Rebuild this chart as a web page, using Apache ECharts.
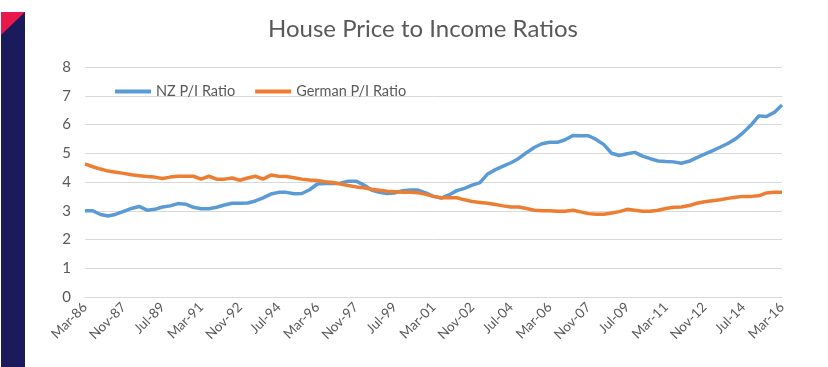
<!DOCTYPE html>
<html>
<head>
<meta charset="utf-8">
<script src="https://cdn.jsdelivr.net/npm/echarts@6/dist/echarts.min.js"></script>
<style>html,body{margin:0;padding:0;background:#fff}#c{width:828px;height:367px}</style>
</head>
<body>
<div id="c"></div>
<script>
// Categories: every 4 months, Mar-86 .. Mar-16
const months = ['Mar', 'Jul', 'Nov'];
const categories = [];
for (let y = 1986; y <= 2016; y++) {
  for (const m of months) {
    if (y === 2016 && m !== 'Mar') break;
    categories.push(m + '-' + String(y % 100).padStart(2, '0'));
  }
}
const nzRatio = [
  3.0, 3.0, 2.87, 2.82, 2.88, 2.98, 3.08, 3.15, 3.02, 3.05,
  3.13, 3.17, 3.25, 3.23, 3.12, 3.07, 3.07, 3.12, 3.2, 3.26,
  3.26, 3.27, 3.34, 3.45, 3.58, 3.64, 3.64, 3.59, 3.6, 3.73,
  3.93, 3.95, 3.95, 3.96, 4.03, 4.03, 3.9, 3.72, 3.64, 3.6,
  3.62, 3.7, 3.72, 3.72, 3.62, 3.5, 3.44, 3.55, 3.7, 3.78,
  3.89, 3.98, 4.28, 4.43, 4.55, 4.67, 4.82, 5.02, 5.2, 5.33,
  5.38, 5.38, 5.47, 5.62, 5.61, 5.61, 5.48, 5.3, 5.0, 4.92,
  4.98, 5.03, 4.9, 4.81, 4.73, 4.71, 4.7, 4.65, 4.72, 4.85,
  4.97, 5.08, 5.21, 5.34, 5.5, 5.72, 5.98, 6.3, 6.28, 6.42,
  6.68
];
const germanRatio = [
  4.63, 4.53, 4.45, 4.38, 4.34, 4.3, 4.25, 4.22, 4.19, 4.17,
  4.12, 4.17, 4.2, 4.2, 4.2, 4.1, 4.2, 4.1, 4.1, 4.14,
  4.06, 4.14, 4.2, 4.1, 4.24, 4.2, 4.19, 4.15, 4.1, 4.07,
  4.05, 4.01, 3.98, 3.93, 3.88, 3.83, 3.8, 3.75, 3.71, 3.68,
  3.66, 3.64, 3.64, 3.63, 3.57, 3.5, 3.45, 3.45, 3.45, 3.38,
  3.32, 3.29, 3.26, 3.22, 3.17, 3.13, 3.13, 3.08, 3.02, 3.0,
  3.0, 2.98, 2.98, 3.02, 2.96, 2.9, 2.88, 2.88, 2.92, 2.97,
  3.05, 3.02, 2.98, 2.98, 3.02, 3.08, 3.12, 3.13, 3.18, 3.26,
  3.31, 3.35, 3.38, 3.43, 3.47, 3.5, 3.5, 3.52, 3.62, 3.64,
  3.64
];
const yTicks = [0, 1, 2, 3, 4, 5, 6, 7, 8];

const FONT = 'Lato, "Open Sans", sans-serif';
const TXT = '#595959';
const chart = echarts.init(document.getElementById('c'), null, { renderer: 'canvas' });
chart.setOption({
  animation: false,
  textStyle: { fontFamily: FONT },
  title: {
    text: 'House Price to Income Ratios',
    left: 418, top: 12, textAlign: 'center',
    textStyle: { fontFamily: FONT, fontSize: 24, fontWeight: 'normal', color: TXT }
  },
  legend: {
    left: 115, top: 84, padding: 0,
    icon: 'rect', itemWidth: 36, itemHeight: 4, itemGap: 20,
    textStyle: { fontFamily: FONT, fontSize: 14.5, color: TXT },
    data: ['NZ P/I Ratio', 'German P/I Ratio']
  },
  grid: { left: 85, right: 46, top: 67, bottom: 70, containLabel: false },
  graphic: [
    { type: 'rect', shape: { x: 1, y: 12, width: 24, height: 360 }, style: { fill: '#1a1a5c' } },
    { type: 'polygon', shape: { points: [[1, 12], [25, 12], [1, 35]] }, style: { fill: '#e8194a' } }
  ],
  xAxis: {
    type: 'category', data: categories, boundaryGap: false,
    axisLine: { lineStyle: { color: '#d9d9d9', width: 1 } },
    axisTick: { show: false },
    axisLabel: {
      interval: 4, rotate: 45, margin: 8,
      fontFamily: FONT, fontSize: 13.5, color: TXT
    },
    splitLine: { show: false }
  },
  yAxis: {
    type: 'value', min: yTicks[0], max: yTicks[yTicks.length - 1], interval: 1,
    axisLine: { show: false }, axisTick: { show: false },
    axisLabel: { fontFamily: FONT, fontSize: 15, color: TXT, margin: 14 },
    splitLine: { lineStyle: { color: '#d9d9d9', width: 1 } }
  },
  series: [
    {
      name: 'NZ P/I Ratio', type: 'line', data: nzRatio,
      showSymbol: false, symbol: 'none',
      lineStyle: { color: '#5b9bd5', width: 3.5 }, itemStyle: { color: '#5b9bd5' }
    },
    {
      name: 'German P/I Ratio', type: 'line', data: germanRatio,
      showSymbol: false, symbol: 'none',
      lineStyle: { color: '#ed7d31', width: 3.5 }, itemStyle: { color: '#ed7d31' }
    }
  ]
});
</script>
</body>
</html>
